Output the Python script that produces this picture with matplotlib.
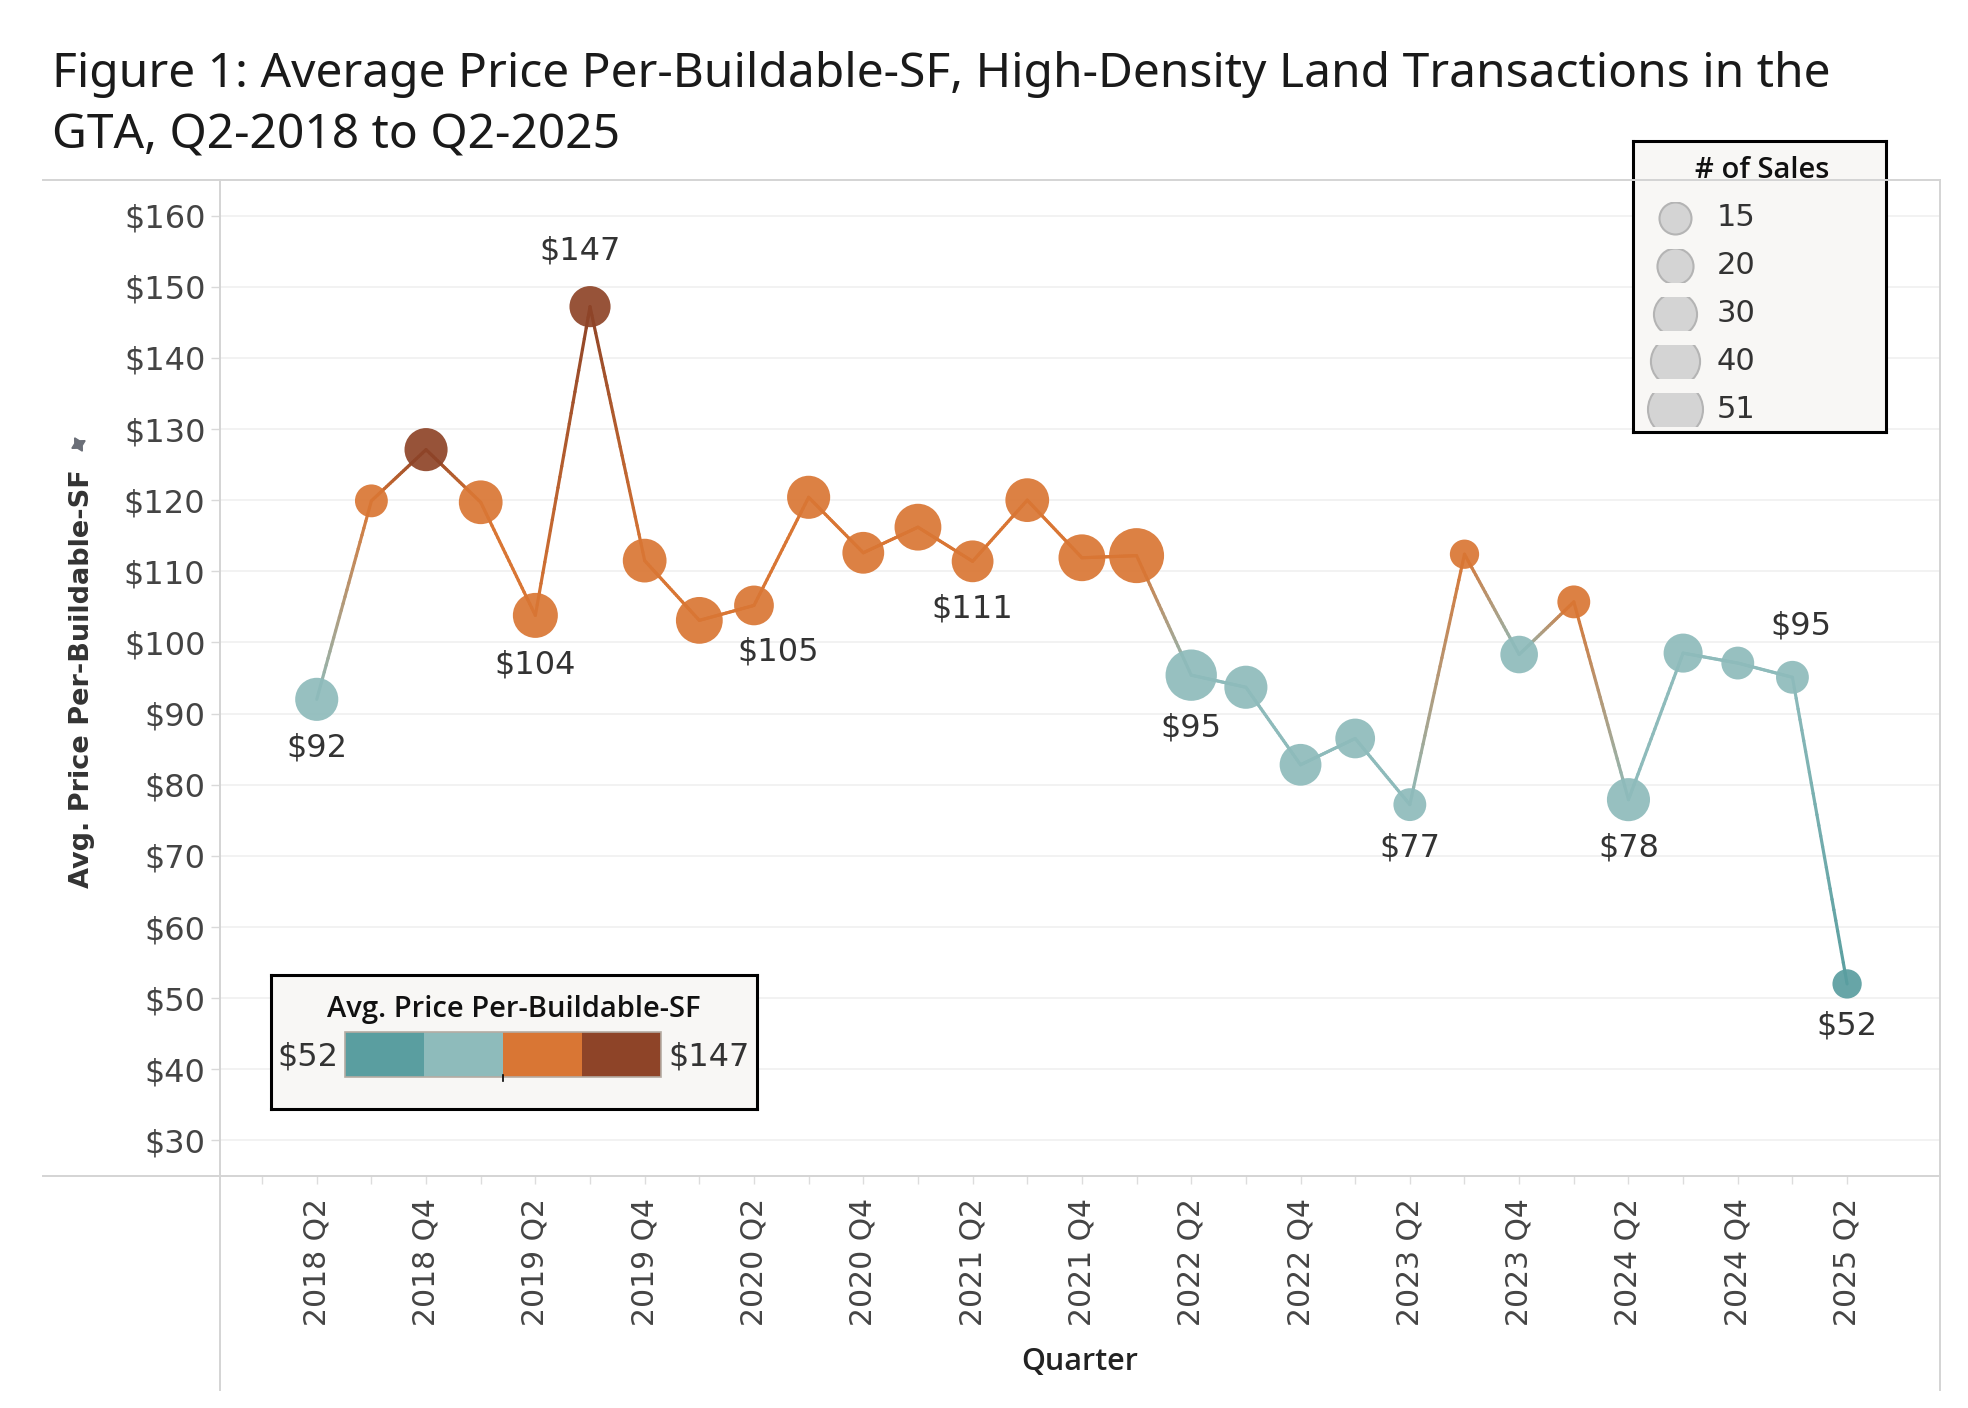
import numpy as np
import matplotlib
matplotlib.use("Agg")
import matplotlib.pyplot as plt
from matplotlib.collections import LineCollection
from matplotlib.lines import Line2D
from matplotlib.patches import Rectangle
from matplotlib.colors import to_rgb

W, H = 1968, 1408

# data
quarters = [f"{y} Q{q}" for y in range(2018, 2026) for q in range(1, 5)][1:30]
prices = [92.0, 119.9, 127.1, 119.7, 103.8, 147.2, 111.5, 103.1, 105.2, 120.4,
          112.6, 116.2, 111.4, 120.0, 111.9, 112.2, 95.4, 93.7, 82.8, 86.5,
          77.2, 112.4, 98.3, 105.7, 77.9, 98.5, 97.1, 95.1, 52.0]
sales = [30, 16, 30, 31, 33, 27, 31, 36, 25, 30,
         28, 36, 28, 31, 36, 51, 44, 30, 28, 25,
         16, 12, 22, 16, 30, 24, 16, 16, 12]
# which points carry a value label, and where (side, sideways nudge in px)
labelled = {0: ("below", 0), 4: ("below", 0), 5: ("above", -10), 8: ("below", 24),
            12: ("below", 0), 16: ("below", 0), 20: ("below", 0), 24: ("below", 0),
            27: ("above", 8), 28: ("below", 0)}
bin_colors = ["#5A9EA0", "#8EBBBB", "#D97634", "#8E4428"]
size_legend_values = [15, 20, 30, 40, 51]

TXT = "#333333"
title_font = ["Noto Sans", "DejaVu Sans"]
head_font = ["Open Sans", "DejaVu Sans"]


def marker_d_px(n):
    return np.sqrt(190 + 55.6 * np.asarray(n, dtype=float))


def marker_area(n):
    return (marker_d_px(n) * 72 / 100) ** 2


def fx(x):
    return x / W


def fy(y):
    return 1 - y / H


prices = np.array(prices)
x = np.arange(len(prices))
edges = np.linspace(prices.min(), prices.max(), 5)
bins = np.clip(np.digitize(prices, edges[1:-1]), 0, 3)
pt_colors = [bin_colors[b] for b in bins]

fig = plt.figure(figsize=(W / 100, H / 100), dpi=100)
fig.patch.set_facecolor("white")

ax = fig.add_axes([fx(220), fy(1176), fx(1720), 996 / H])
ax.set_xlim(-1.77, 29.70)
ax.set_ylim(25, 165)
for s in ax.spines.values():
    s.set_visible(False)

yt = list(range(30, 161, 10))
ax.set_yticks(yt)
ax.set_yticklabels([f"${v}" for v in yt])
ax.tick_params(axis="y", length=6.5, color="#d9d9d9", width=1, pad=4,
               labelsize=23, labelcolor="#444444")
ax.yaxis.grid(True, color="#efefef", lw=1.1)
ax.set_axisbelow(True)

ax.set_xticks(x)
ax.set_xticklabels([q if i % 2 == 0 else "" for i, q in enumerate(quarters)],
                   rotation=90)
ax.set_xticks([-1], minor=True)
ax.tick_params(axis="x", which="both", length=6, color="#dddddd", width=1,
               pad=10, labelsize=21.5, labelcolor="#444444")

# line segments, colour blended between the two end points
segs, cols = [], []
t = np.linspace(0, 1, 30)
for i in range(len(prices) - 1):
    c0, c1 = np.array(to_rgb(pt_colors[i])), np.array(to_rgb(pt_colors[i + 1]))
    xs = x[i] + t
    ys = prices[i] + t * (prices[i + 1] - prices[i])
    for k in range(len(t) - 1):
        segs.append([(xs[k], ys[k]), (xs[k + 1], ys[k + 1])])
        m = (t[k] + t[k + 1]) / 2
        cols.append((1 - m) * c0 + m * c1)
lc = LineCollection(segs, colors=cols, linewidths=2.3, capstyle="round", zorder=2)
ax.add_collection(lc)

ax.scatter(x, prices, s=marker_area(sales), c=pt_colors, alpha=0.92,
           linewidths=0, zorder=3)

for i, (pos, dx) in labelled.items():
    r = marker_d_px(sales[i]) / 2
    off = -(r + 27) if pos == "below" else (r + 35)
    ax.annotate(f"${prices[i]:.0f}", (x[i], prices[i]), xytext=(dx * 0.72, off * 0.72),
                textcoords="offset points", ha="center", va="center",
                fontsize=23, color=TXT)

# frame lines
line_kw = dict(transform=fig.transFigure, color="#d4d4d4", lw=1.4)
fig.add_artist(Line2D([fx(43), fx(1940)], [fy(180), fy(180)], **line_kw))
fig.add_artist(Line2D([fx(43), fx(1940)], [fy(1176), fy(1176)], **line_kw))
fig.add_artist(Line2D([fx(220), fx(220)], [fy(180), fy(1390)], **line_kw))
fig.add_artist(Line2D([fx(1940), fx(1940)], [fy(180), fy(1390)], **line_kw))

# titles
fig.text(fx(52), fy(87), "Figure 1: Average Price Per-Buildable-SF, High-Density Land Transactions in the",
         fontsize=34.5, family=title_font, color="#1a1a1a", va="baseline")
fig.text(fx(52), fy(148), "GTA, Q2-2018 to Q2-2025",
         fontsize=34.5, family=title_font, color="#1a1a1a", va="baseline")
fig.text(fx(1080), fy(1362), "Quarter", ha="center", va="center", fontsize=22,
         family=head_font, fontweight="semibold", color="#222222")
fig.text(fx(82), fy(679), "Avg. Price Per-Buildable-SF", rotation=90, ha="center",
         va="center", fontsize=19.5, fontweight="bold", color="#333333")
# little pin icon above the axis title
fig.add_artist(Line2D([fx(78)], [fy(444)], transform=fig.transFigure, marker=(4, 1, 30),
                      markersize=11, color="#6b6f78", lw=0))

# size legend
lax = fig.add_axes([fx(1633), fy(432), 253 / W, 291 / H])
lax.set_xlim(0, 253)
lax.set_ylim(291, 0)
lax.set_facecolor("#f8f7f5")
lax.set_xticks([])
lax.set_yticks([])
for s in lax.spines.values():
    s.set_color("black")
    s.set_linewidth(2.2)
lax.text(129, 30, "# of Sales", ha="center", va="center", fontsize=21,
         family=head_font, fontweight="semibold", color="#111111")
for k, v in enumerate(size_legend_values):
    yy = 77 + k * 47.8
    sc = lax.scatter([42], [yy], s=marker_area(v), c="#d4d4d4",
                     edgecolors="#b4b4b4", linewidths=1.5)
    clip = Rectangle((0, yy - 16.5), 253, 33, transform=lax.transData)
    sc.set_clip_path(clip)
    lax.text(84, yy, str(v), ha="left", va="center", fontsize=22, color=TXT)

# colour legend
cax = fig.add_axes([fx(271), fy(1109), 486 / W, 134 / H])
cax.set_xlim(0, 486)
cax.set_ylim(134, 0)
cax.set_facecolor("#f8f7f5")
cax.set_xticks([])
cax.set_yticks([])
for s in cax.spines.values():
    s.set_color("black")
    s.set_linewidth(2.2)
cax.text(243, 34, "Avg. Price Per-Buildable-SF", ha="center", va="center",
         fontsize=21, family=head_font, fontweight="semibold", color="#111111")
bw = 79
for k, c in enumerate(bin_colors):
    cax.add_patch(Rectangle((74 + k * bw, 57), bw, 45, facecolor=c, edgecolor="none"))
cax.add_patch(Rectangle((74, 57), 4 * bw, 45, facecolor="none", edgecolor="#b5aca3", lw=1.2))
cax.plot([74 + 2 * bw, 74 + 2 * bw], [100, 106], color="black", lw=1.2)
cax.text(67, 82, f"${prices.min():.0f}", ha="right", va="center", fontsize=23, color=TXT)
cax.text(397, 82, f"${prices.max():.0f}", ha="left", va="center", fontsize=23, color=TXT)

fig.savefig("out.png", dpi=100)
